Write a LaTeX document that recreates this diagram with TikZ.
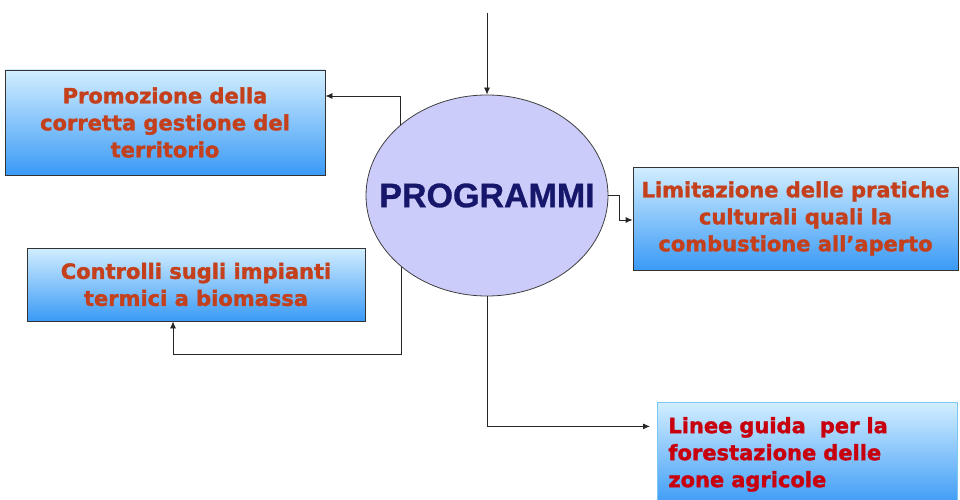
\documentclass[tikz,border=0pt]{standalone}
\usepackage{fontspec}
\setmainfont{DejaVu Sans}[BoldFeatures={FakeBold=1.6}]
\newfontfamily\libsans{Liberation Sans}[BoldFeatures={FakeBold=0.8}]
\usetikzlibrary{arrows.meta,shapes.geometric,calc}
\definecolor{boxtop}{HTML}{D2EEFF}
\definecolor{boxbot}{HTML}{3A9AF6}
\definecolor{txtred}{HTML}{C4401C}
\definecolor{txtcrim}{HTML}{C8000E}
\definecolor{ellfill}{HTML}{CCCCFA}
\definecolor{navy}{HTML}{16166A}
\definecolor{lightedge}{HTML}{7CC6F2}
\tikzset{
  bluebox/.style={draw=black!80, line width=0.8pt, top color=boxtop, bottom color=boxbot,
    rectangle, inner sep=0pt, font=\bfseries\fontsize{21}{27}\selectfont, align=center},
  arr/.style={draw=black!85, line width=0.8pt, -{Latex[length=7pt,width=6pt]}}
}
\begin{document}
\begin{tikzpicture}[x=1pt,y=1pt]
\useasboundingbox (0,0) rectangle (960,-500);
% ellipse
\node[ellipse, draw=black!75, line width=0.8pt, fill=ellfill, minimum width=242pt, minimum height=201pt, inner sep=0pt,
  font=\libsans\bfseries\fontsize{34}{34}\selectfont, text=navy] (e) at (487,-195.5) {\makebox[0pt]{PROGRAMMI}};
% boxes
\node[bluebox, minimum width=320pt, minimum height=105pt, text=txtred] (b1) at (165,-122.5)
  {Promozione della\\corretta gestione del\\territorio};
\node[bluebox, minimum width=338pt, minimum height=73pt, text=txtred] (b3) at (196,-284.5)
  {Controlli sugli impianti\\termici a biomassa};
\node[bluebox, minimum width=325pt, minimum height=103pt, text=txtred] (b2) at (795.5,-218.5)
  {Limitazione delle pratiche\\culturali quali la\\combustione all’aperto};
\node[bluebox, anchor=north west, minimum width=300pt, minimum height=104pt, text width=278pt,
  align=left, text=txtcrim, draw=lightedge] (b4) at (657,-402)
  {Linee guida\ \ per la\\forestazione delle\\zone agricole};
% connectors
\coordinate (top) at (487,-13);
\coordinate (low) at (0,-354);
\draw[arr] (top) -- (e.north);
\draw[arr] (e.141.3) |- ([yshift=26.5pt]b1.east);
\draw[arr] (e.220.1) -- (e.220.1 |- low) -| ([xshift=-23pt]b3.south);
\draw[arr] (e.east) -- ++(11,0) |- ([yshift=-1.5pt]b2.west);
\draw[arr, shorten >=7pt] (e.south) |- ([yshift=28pt]b4.west);
\end{tikzpicture}
\end{document}
